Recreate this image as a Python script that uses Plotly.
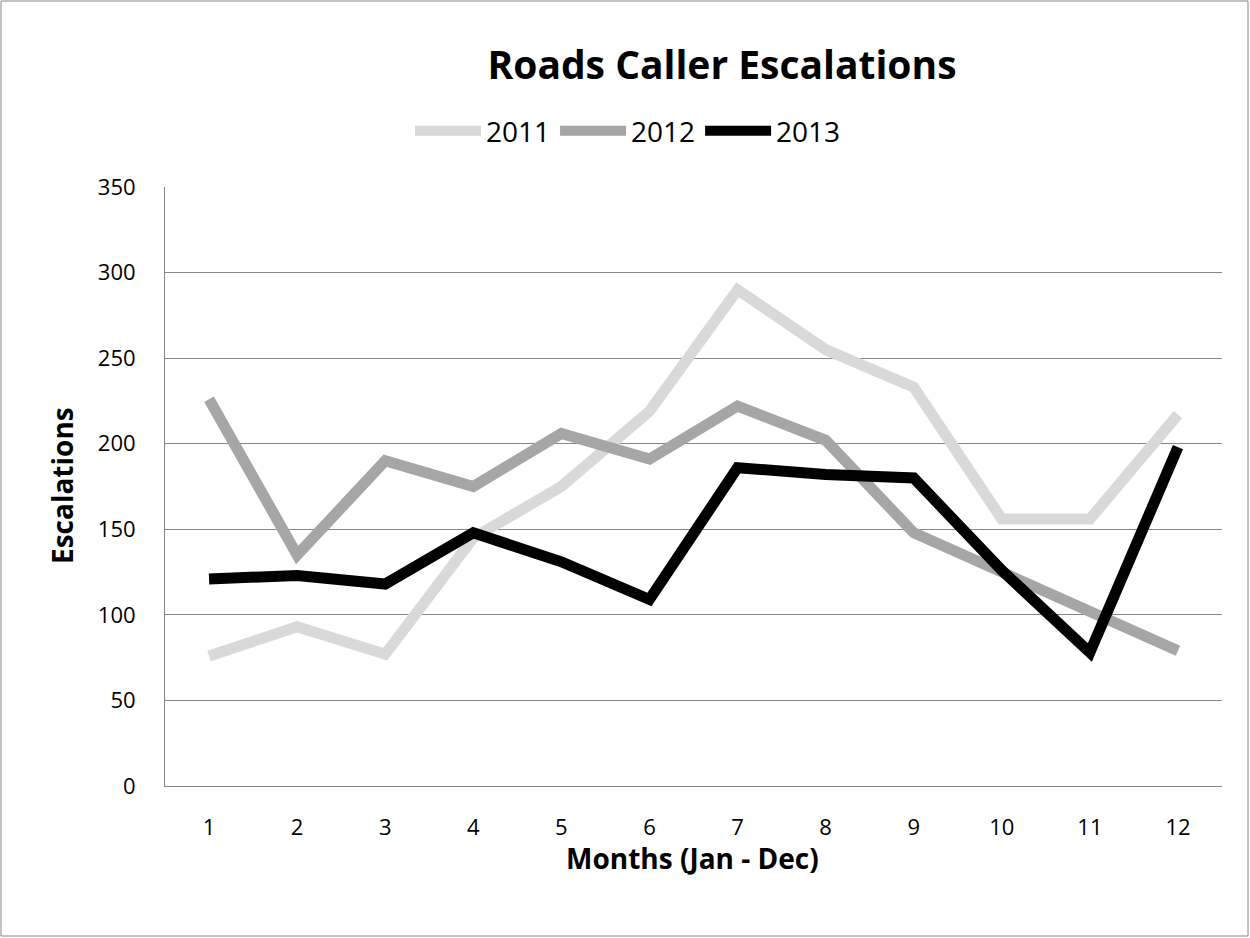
import plotly.graph_objects as go

months = list(range(1, 13))
month_labels = [str(m) for m in months]
y2011 = [76, 93, 77, 145, 175, 219, 290, 255, 233, 156, 156, 217]
y2012 = [226, 135, 190, 175, 206, 191, 222, 202, 148, 125, 102, 79]
y2013 = [121, 123, 118, 148, 131, 109, 186, 182, 180, 126, 78, 198]
series_names = ["2011", "2012", "2013"]
series_colors = ["#d9d9d9", "#a6a6a6", "#000000"]

fig = go.Figure()
for name, vals, col in zip(series_names, [y2011, y2012, y2013], series_colors):
    fig.add_trace(go.Scatter(
        x=months, y=vals, name=name, mode="lines",
        line=dict(color=col, width=11),
    ))

font_family = "Open Sans, Noto Sans, Liberation Sans, sans-serif"
W, H = 1250, 938
L, R, T, B = 165, 28, 187, 152
pw, ph = W - L - R, H - T - B

fig.update_layout(
    width=W, height=H,
    margin=dict(l=L, r=R, t=T, b=B),
    paper_bgcolor="white", plot_bgcolor="white",
    font=dict(family=font_family, color="#000000", size=22),
    title=dict(text="<b>Roads Caller Escalations</b>", x=722 / W, xanchor="center",
               y=1 - 65 / H, yanchor="middle", xref="container", yref="container",
               font=dict(size=39, family=font_family, color="#000000")),
    legend=dict(orientation="h", x=(628 - L) / pw, xanchor="center",
                y=(786 - 131) / ph, yanchor="middle",
                font=dict(size=28), itemwidth=66, tracegroupgap=0,
                bgcolor="rgba(0,0,0,0)"),
    showlegend=True,
)
fig.update_xaxes(
    tickmode="array", tickvals=months, ticktext=month_labels,
    range=[0.5, 12.5], showgrid=False, zeroline=False,
    showline=True, linecolor="#868686", linewidth=1,
    ticks="", tickfont=dict(size=22), ticklabelstandoff=22,
)
fig.update_yaxes(
    range=[0, 350], dtick=50, showgrid=True, gridcolor="#868686", gridwidth=1,
    zeroline=False, showline=True, linecolor="#868686", linewidth=1,
    ticks="", tickfont=dict(size=22), ticklabelstandoff=24,
)
fig.add_annotation(text="<b>Escalations</b>", xref="paper", yref="paper",
                   x=(62 - L) / pw, y=(786 - 486) / ph, textangle=-90, showarrow=False,
                   xanchor="center", yanchor="middle", font=dict(size=28))
fig.add_annotation(text="<b>Months (Jan - Dec)</b>", xref="paper", yref="paper",
                   x=(692 - L) / pw, y=(786 - 858) / ph, showarrow=False,
                   xanchor="center", yanchor="middle", font=dict(size=28))
fig.add_shape(type="rect", xref="paper", yref="paper",
              x0=(1 - L) / pw, x1=(1248 - L) / pw,
              y0=(786 - 936) / ph, y1=(786 - 1) / ph,
              line=dict(color="#868686", width=1), fillcolor="rgba(0,0,0,0)")

fig.write_html("out.html", config={"displayModeBar": False},
               post_script="document.body.style.margin='0px';document.body.style.overflow='hidden';")
